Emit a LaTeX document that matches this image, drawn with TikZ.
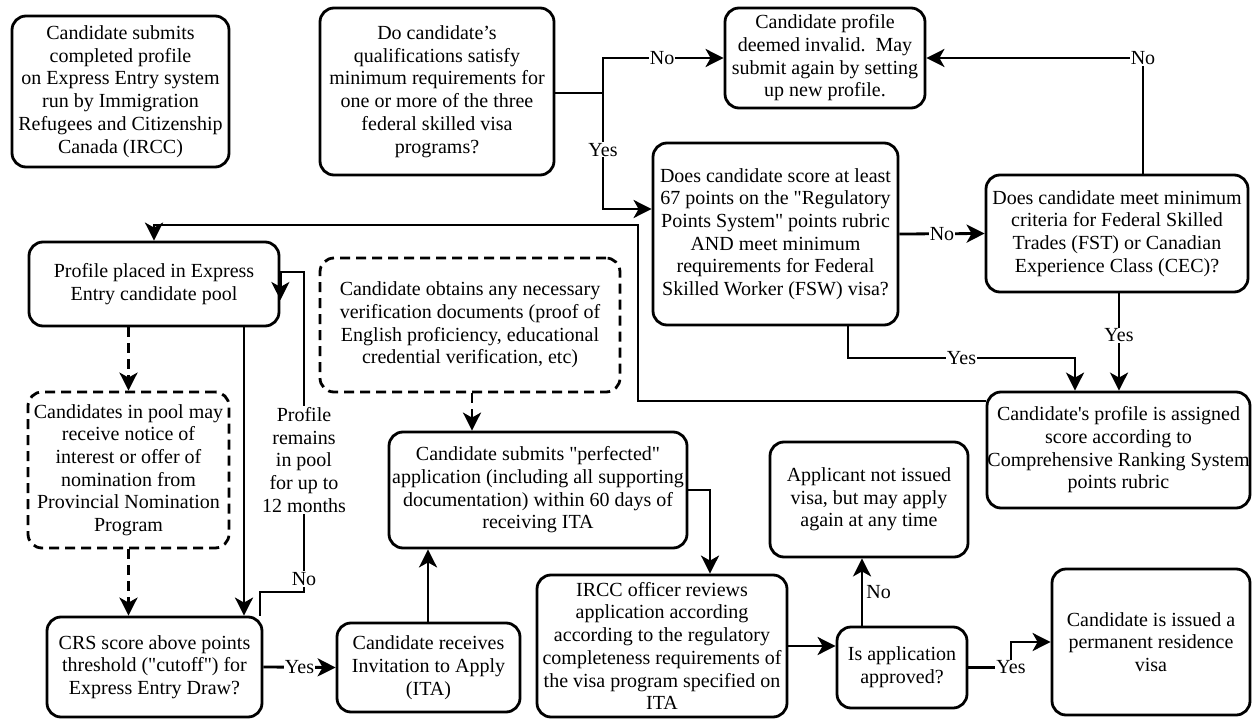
\documentclass[tikz,border=0pt]{standalone}
\usepackage{fontspec}
\setmainfont{Liberation Serif}[Ligatures=TeXOff]
\usetikzlibrary{arrows.meta}
\newcommand\myfs{\fontsize{20}{22.7}\selectfont}
\tikzset{
 box/.style={draw, line width=2.8pt, rounded corners=14pt, align=center, inner sep=0pt, font=\myfs},
 dbox/.style={box, dash pattern=on 10pt off 6pt},
 ln/.style={line width=2.8pt},
 arr/.style={line width=2.8pt, -{Stealth[length=18pt,width=18pt,inset=5pt]}},
 darr/.style={arr, dash pattern=on 10pt off 6pt},
 lab/.style={fill=white, inner sep=1pt, font=\myfs, align=center}
}
\begin{document}
\begin{tikzpicture}[x=1pt,y=-1pt]
\useasboundingbox (0,0) rectangle (1252,719);
\node[box, minimum width=217pt, minimum height=151pt] (n1) at (120.5,91.5) {Candidate submits\\completed profile\\on Express Entry system\\run by Immigration\\Refugees and Citizenship\\Canada (IRCC)};
\node[box, minimum width=234pt, minimum height=167pt] (n2) at (437,91.5) {Do candidate’s\\qualifications satisfy\\minimum requirements for\\one or more of the three\\federal skilled visa\\programs?};
\node[box, minimum width=200pt, minimum height=100pt] (n3) at (825,58) {Candidate profile\\deemed invalid.\ \ May\\submit again by setting\\up new profile.};
\node[box, minimum width=245pt, minimum height=182pt] (n4) at (775.5,234) {Does candidate score at least\\67 points on the "Regulatory\\Points System" points rubric\\AND meet minimum\\requirements for Federal\\Skilled Worker (FSW) visa?};
\node[box, minimum width=262pt, minimum height=117pt] (n5) at (1117,233.5) {Does candidate meet minimum\\criteria for Federal Skilled\\Trades (FST) or Canadian\\Experience Class (CEC)?};
\node[box, minimum width=263pt, minimum height=116pt] (n6) at (1118.5,450) {Candidate's profile is assigned\\score according to\\Comprehensive Ranking System\\points rubric};
\node[box, minimum width=250pt, minimum height=84pt] (n7) at (154,284) {Profile placed in Express\\Entry candidate pool};
\node[box, minimum width=215pt, minimum height=100pt] (n8) at (154.5,667) {CRS score above points\\threshold ("cutoff") for\\Express Entry Draw?};
\node[dbox, minimum width=201pt, minimum height=156pt] (n9) at (128.5,470) {Candidates in pool may\\receive notice of\\interest or offer of\\nomination from\\Provincial Nomination\\Program};
\node[box, minimum width=183pt, minimum height=89pt] (n10) at (428.5,667.5) {Candidate receives\\Invitation to Apply\\(ITA)};
\node[box, minimum width=298pt, minimum height=116pt] (n11) at (538,490) {Candidate submits "perfected"\\application (including all supporting\\documentation) within 60 days of\\receiving ITA};
\node[dbox, minimum width=300pt, minimum height=134pt] (n12) at (470,325) {Candidate obtains any necessary\\verification documents (proof of\\English proficiency, educational\\credential verification, etc)};
\node[box, minimum width=250pt, minimum height=142pt] (n13) at (662,646) {IRCC officer reviews\\application according\\according to the regulatory\\completeness requirements of\\the visa program specified on\\ITA};
\node[box, minimum width=130pt, minimum height=81pt] (n14) at (902,667.5) {Is application\\approved?};
\node[box, minimum width=198pt, minimum height=115pt] (n15) at (869,499.5) {Applicant not issued\\visa, but may apply\\again at any time};
\node[box, minimum width=198pt, minimum height=146pt] (n16) at (1151,642) {Candidate is issued a\\permanent residence\\visa};
\coordinate (sp) at (603,93);
\coordinate (y209) at (0,209);
\coordinate (x1143) at (1143,0);
\coordinate (x848) at (848,0);
\coordinate (c1075) at (1075,358);
\coordinate (x1119) at (1119,0);
\coordinate (y401) at (0,401);
\coordinate (c638) at (638,225);
\coordinate (x244) at (244,0);
\coordinate (x260) at (260,0);
\coordinate (c304) at (304,592);
\coordinate (y272) at (0,272);
\coordinate (y300) at (0,300);
\coordinate (x472) at (472,0);
\coordinate (x428) at (428,0);
\coordinate (x710) at (710,0);
\coordinate (x862) at (862,0);
\coordinate (x1011) at (1011,0);
\draw[ln] (n2.east |- sp) -- (sp);
\draw[arr] (sp) |- node[lab,pos=0.745]{No} (n3.west);
\draw[arr] (sp) |- node[lab,pos=0.245]{Yes} (n4.west |- y209);
\draw[arr] (n4.east) -- node[lab]{No} (n5.west);
\draw[arr] (n5.north -| x1143) |- node[lab,pos=0.5]{No} (n3.east);
\draw[arr] (n4.south -| x848) |- node[lab,pos=0.75]{Yes} (c1075) -- (c1075 |- n6.north);
\draw[arr] (n5.south -| x1119) -- node[lab,pos=0.43]{Yes} (n6.north -| x1119);
\draw[arr] (n6.west |- y401) -| (c638) -| (n7.north);
\draw[darr] (n7.south -| n9.north) -- (n9.north);
\draw[darr] (n9.south) -- (n9.south |- n8.north);
\draw[arr] (n7.south -| x244) -- (n8.north -| x244);
\draw[arr] (n8.north -| x260) |- (c304) -- (c304 |- y272) -- (n7.east |- y272) -- (n7.east |- y300);
\node[lab] (lp) at (304,460) {Profile\\remains\\in pool\\for up to\\12 months};
\node[lab] (lno) at (304,579) {No};
\draw[darr] (n12.south -| x472) -- (n11.north -| x472);
\draw[arr] (n8.east) -- node[lab]{Yes} (n10.west);
\draw[arr] (n10.north -| x428) -- (n11.south -| x428);
\draw[arr] (n11.east) -| (n13.north -| x710);
\draw[arr] (n13.east) -- (n14.west |- n13.east);
\draw[arr] (n14.north -| x862) -- node[right, font=\myfs, inner sep=3pt]{No} (n15.south -| x862);
\draw[arr] (n14.east) -- node[lab,pos=1]{Yes} (x1011 |- n14.east) |- (n16.west);
\end{tikzpicture}
\end{document}
